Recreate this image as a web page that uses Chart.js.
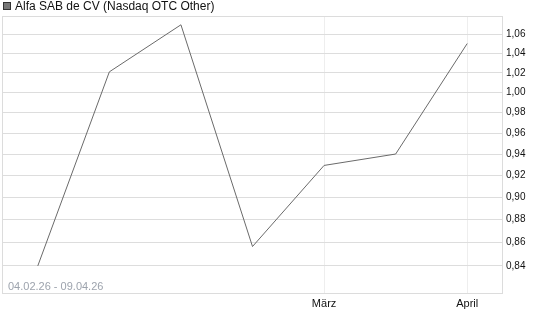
<!DOCTYPE html>
<html>
<head>
<meta charset="utf-8">
<script src="https://cdn.jsdelivr.net/npm/chart.js@4"></script>
<style>
  body { margin: 0; background: #fff; font-family: "Liberation Sans", Arial, sans-serif; }
  #wrap { position: relative; width: 545px; height: 327px; }
  #legend { position: absolute; left: 3px; top: 0px; font-size: 12px; line-height: 13px; color: #111; white-space: nowrap; }
  #legend .box { display: inline-block; width: 6px; height: 6px; background: #777; border: 1px solid #333; margin-right: 4px; vertical-align: 0px; }
  #range { position: absolute; left: 8px; top: 280px; font-size: 11px; line-height: 12px; color: #9da3ad; }
</style>
</head>
<body>
<div id="wrap">
  <canvas id="myChart" width="545" height="327"></canvas>
  <div id="legend"><span class="box"></span>Alfa SAB de CV (Nasdaq OTC Other)</div>
  <div id="range">04.02.26 - 09.04.26</div>
</div>
<script>
// x categories, only two of them carry a month label
var xLabels = ["", "", "", "", "März", "", "April"];
var prices = [0.84, 1.021, 1.0705, 0.8565, 0.9293, 0.94, 1.0505];
var yTicks = [0.84, 0.86, 0.88, 0.90, 0.92, 0.94, 0.96, 0.98, 1.00, 1.02, 1.04, 1.06];
var yMin = 0.8174;
var yMax = 1.080;

var boxPlugin = {
  id: "box",
  beforeDatasetsDraw: function (chart) {
    var a = chart.chartArea;
    var c = chart.ctx;
    c.save();
    c.strokeStyle = "#dcdcdc";
    c.lineWidth = 1;
    c.strokeRect(a.left + 0.5, a.top + 0.5, a.right - a.left - 1, a.bottom - a.top);
    c.restore();
  },
};

var ctx = document.getElementById("myChart").getContext("2d");
var myChart = new Chart(ctx, {
  type: "line",
  data: {
    labels: xLabels,
    datasets: [
      {
        label: "Alfa SAB de CV (Nasdaq OTC Other)",
        data: prices,
        borderColor: "#6a6a6a",
        borderWidth: 1,
        pointRadius: 0,
        tension: 0,
        fill: false,
      },
    ],
  },
  options: {
    responsive: false,
    animation: false,
    devicePixelRatio: 1,
    layout: { padding: { left: 2, top: 16, right: 0, bottom: 0 } },
    plugins: { legend: { display: false }, tooltip: { enabled: false } },
    scales: {
      x: {
        type: "category",
        offset: true,
        border: { display: false },
        grid: {
          drawTicks: false,
          color: function (c) {
            return c.tick && c.tick.label ? "#eeeeee" : "rgba(0,0,0,0)";
          },
        },
        ticks: {
          autoSkip: false,
          maxRotation: 0,
          padding: 4,
          color: "#111",
          font: { family: "Liberation Sans", size: 11 },
        },
        afterFit: function (s) {
          s.height = 34;
        },
      },
      y: {
        type: "logarithmic",
        position: "right",
        min: yMin,
        max: yMax,
        bounds: "data",
        border: { display: false },
        grid: { drawTicks: false, color: "#dddddd" },
        afterBuildTicks: function (s) {
          s.ticks = yTicks.map(function (v) {
            return { value: v };
          });
        },
        ticks: {
          autoSkip: false,
          padding: 3,
          color: "#111",
          font: { family: "Liberation Sans", size: 10 },
          callback: function (v) {
            return Number(v).toFixed(2).replace(".", ",");
          },
        },
        afterFit: function (s) {
          s.width = 42;
        },
      },
    },
  },
  plugins: [boxPlugin],
});
</script>
</body>
</html>
